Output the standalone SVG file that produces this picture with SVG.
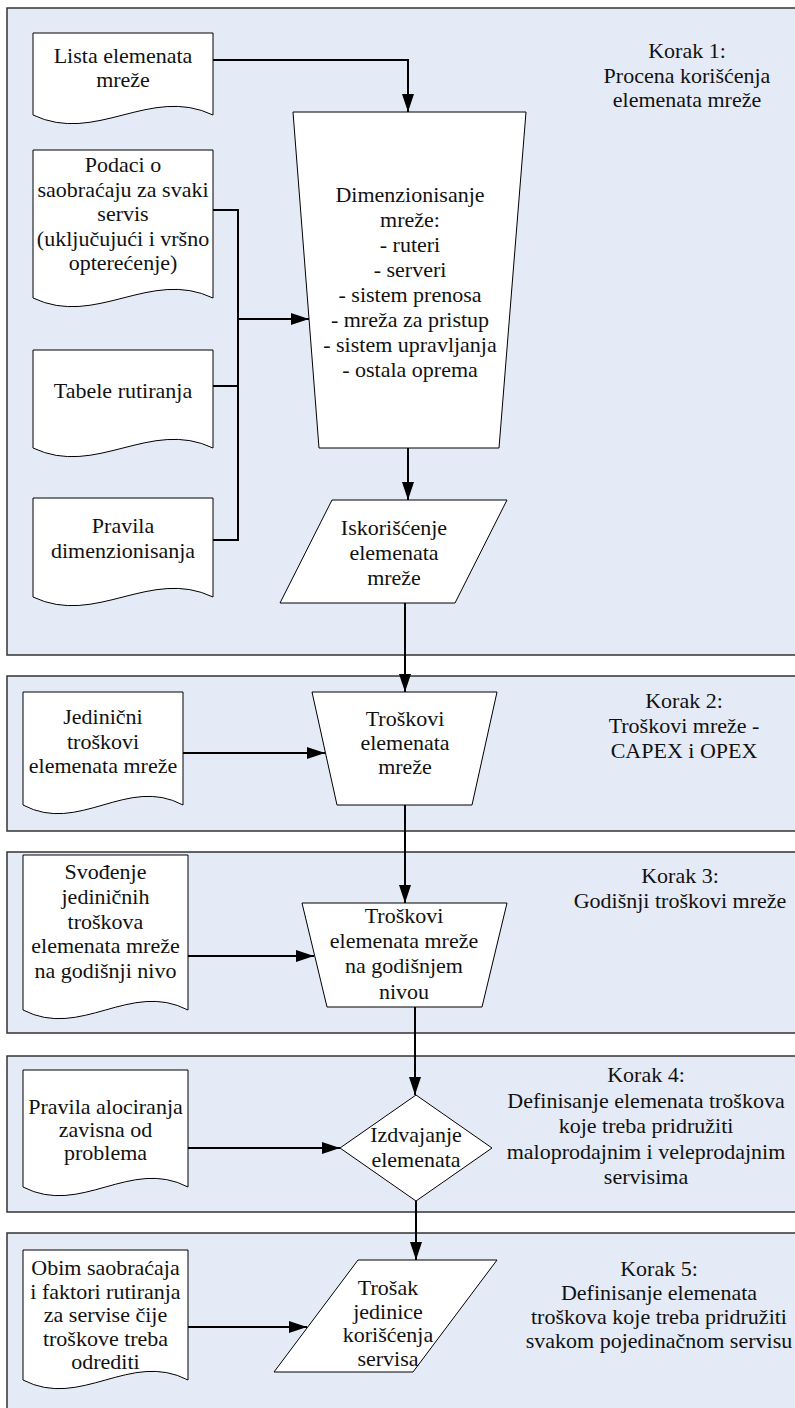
<svg xmlns="http://www.w3.org/2000/svg" width="795" height="1408" viewBox="0 0 795 1408">
<style>
.panel{fill:#E5EBF6;stroke:#333;stroke-width:1.5}
.node{fill:#fff;stroke:#000;stroke-width:1}
.conn{fill:none;stroke:#000;stroke-width:2}
text{font-family:Liberation Serif, Times New Roman, Times, serif;font-size:22px;fill:#111;text-anchor:middle}
</style>
<defs>
<marker id="ah" markerUnits="userSpaceOnUse" markerWidth="18" markerHeight="12" refX="18" refY="6" orient="auto">
<path d="M0,0 L18,6 L0,12 Z" fill="#000"/>
</marker>
</defs>
<rect width="795" height="1408" fill="#fff"/>
<g id="panels">
<rect id="panel1" class="panel" x="7" y="8" width="800" height="647"/>
<rect id="panel2" class="panel" x="7" y="676" width="800" height="155"/>
<rect id="panel3" class="panel" x="7" y="852" width="800" height="181"/>
<rect id="panel4" class="panel" x="7" y="1056" width="800" height="156"/>
<rect id="panel5" class="panel" x="7" y="1233" width="800" height="190"/>
</g>
<g id="steps">
<text x="687" y="58">Korak 1:</text>
<text x="687" y="83">Procena korišćenja</text>
<text x="687" y="107">elemenata mreže</text>
<text x="684" y="708">Korak 2:</text>
<text x="684" y="733">Troškovi mreže -</text>
<text x="684" y="758">CAPEX i OPEX</text>
<text x="680" y="883">Korak 3:</text>
<text x="680" y="908">Godišnji troškovi mreže</text>
<text x="646" y="1082">Korak 4:</text>
<text x="646" y="1107.5">Definisanje elemenata troškova</text>
<text x="646" y="1133">koje treba pridružiti</text>
<text x="646" y="1158.5">maloprodajnim i veleprodajnim</text>
<text x="646" y="1184">servisima</text>
<text x="659" y="1276">Korak 5:</text>
<text x="659" y="1300">Definisanje elemenata</text>
<text x="659" y="1324">troškova koje treba pridružiti</text>
<text x="659" y="1348">svakom pojedinačnom servisu</text>
</g>
<g id="connectors">
<path class="conn" d="M213,60 H408 V112" marker-end="url(#ah)"/>
<path class="conn" d="M213,210 H238 V540 H213 M213,386 H238"/>
<path class="conn" d="M238,319 H309" marker-end="url(#ah)"/>
<path class="conn" d="M408,448 V500" marker-end="url(#ah)"/>
<path class="conn" d="M405,603 V692" marker-end="url(#ah)"/>
<path class="conn" d="M183,753 H325" marker-end="url(#ah)"/>
<path class="conn" d="M405,805 V903" marker-end="url(#ah)"/>
<path class="conn" d="M188,956 H314" marker-end="url(#ah)"/>
<path class="conn" d="M415,1007 V1095" marker-end="url(#ah)"/>
<path class="conn" d="M188,1148 H340" marker-end="url(#ah)"/>
<path class="conn" d="M416,1201 V1260" marker-end="url(#ah)"/>
<path class="conn" d="M188,1327 H307" marker-end="url(#ah)"/>
</g>
<g id="lista">
<path class="node" d="M33,33 H213 V115 C150,85 96,145 33,115 Z"/>
<text x="123" y="63">Lista elemenata</text>
<text x="123" y="87">mreže</text>
</g>
<g id="podaci">
<path class="node" d="M33,150 H213 V298 C150,268 96,328 33,298 Z"/>
<text x="123" y="172">Podaci o</text>
<text x="123" y="196.5">saobraćaju za svaki</text>
<text x="123" y="221">servis</text>
<text x="123" y="245.5">(uključujući i vršno</text>
<text x="123" y="270">opterećenje)</text>
</g>
<g id="tabele">
<path class="node" d="M33,350 H213 V448 C150,418 96,478 33,448 Z"/>
<text x="123" y="398">Tabele rutiranja</text>
</g>
<g id="pravila">
<path class="node" d="M33,498 H213 V597 C150,567 96,627 33,597 Z"/>
<text x="123" y="533">Pravila</text>
<text x="123" y="558">dimenzionisanja</text>
</g>
<g id="dimenzionisanje">
<path class="node" d="M293,112 L526,112 L499,448 L319,448 Z"/>
<text x="410" y="202">Dimenzionisanje</text>
<text x="410" y="227">mreže:</text>
<text x="410" y="252">- ruteri</text>
<text x="410" y="277">- serveri</text>
<text x="410" y="302">- sistem prenosa</text>
<text x="410" y="327">- mreža za pristup</text>
<text x="410" y="352">- sistem upravljanja</text>
<text x="410" y="377">- ostala oprema</text>
</g>
<g id="iskoriscenje">
<path class="node" d="M332,500 L507,500 L455,603 L280,603 Z"/>
<text x="394" y="535">Iskorišćenje</text>
<text x="394" y="560">elemenata</text>
<text x="394" y="585">mreže</text>
</g>
<g id="jedinicni">
<path class="node" d="M23,692 H183 V805 C127,775 79,835 23,805 Z"/>
<text x="103" y="724">Jedinični</text>
<text x="103" y="748.5">troškovi</text>
<text x="103" y="773">elemenata mreže</text>
</g>
<g id="troskovi">
<path class="node" d="M312,692 L497,692 L472,805 L337,805 Z"/>
<text x="405" y="726">Troškovi</text>
<text x="405" y="750">elemenata</text>
<text x="405" y="774">mreže</text>
</g>
<g id="svodjenje">
<path class="node" d="M23,855 H188 V1010 C130,980 81,1040 23,1010 Z"/>
<text x="105.5" y="879">Svođenje</text>
<text x="105.5" y="904">jediničnih</text>
<text x="105.5" y="929">troškova</text>
<text x="105.5" y="953">elemenata mreže</text>
<text x="105.5" y="978">na godišnji nivo</text>
</g>
<g id="godisnji">
<path class="node" d="M302,903 L507,903 L482,1007 L327,1007 Z"/>
<text x="404" y="923">Troškovi</text>
<text x="404" y="948">elemenata mreže</text>
<text x="404" y="973">na godišnjem</text>
<text x="404" y="999">nivou</text>
</g>
<g id="alociranje">
<path class="node" d="M23,1070 H188 V1187 C130,1157 81,1217 23,1187 Z"/>
<text x="105.5" y="1114">Pravila alociranja</text>
<text x="105.5" y="1137">zavisna od</text>
<text x="105.5" y="1160">problema</text>
</g>
<g id="izdvajanje">
<path class="node" d="M416,1095 L492,1148 L416,1201 L340,1148 Z"/>
<text x="416" y="1142">Izdvajanje</text>
<text x="416" y="1167">elemenata</text>
</g>
<g id="obim">
<path class="node" d="M23,1250 H188 V1380 C130,1350 81,1410 23,1380 Z"/>
<text x="105.5" y="1275">Obim saobraćaja</text>
<text x="105.5" y="1298.5">i faktori rutiranja</text>
<text x="105.5" y="1322">za servise čije</text>
<text x="105.5" y="1345.5">troškove treba</text>
<text x="105.5" y="1369">odrediti</text>
</g>
<g id="trosak">
<path class="node" d="M358,1260 L497,1260 L413,1372 L274,1372 Z"/>
<text x="388" y="1295">Trošak</text>
<text x="388" y="1318.5">jedinice</text>
<text x="388" y="1342">korišćenja</text>
<text x="388" y="1365.5">servisa</text>
</g>
</svg>
